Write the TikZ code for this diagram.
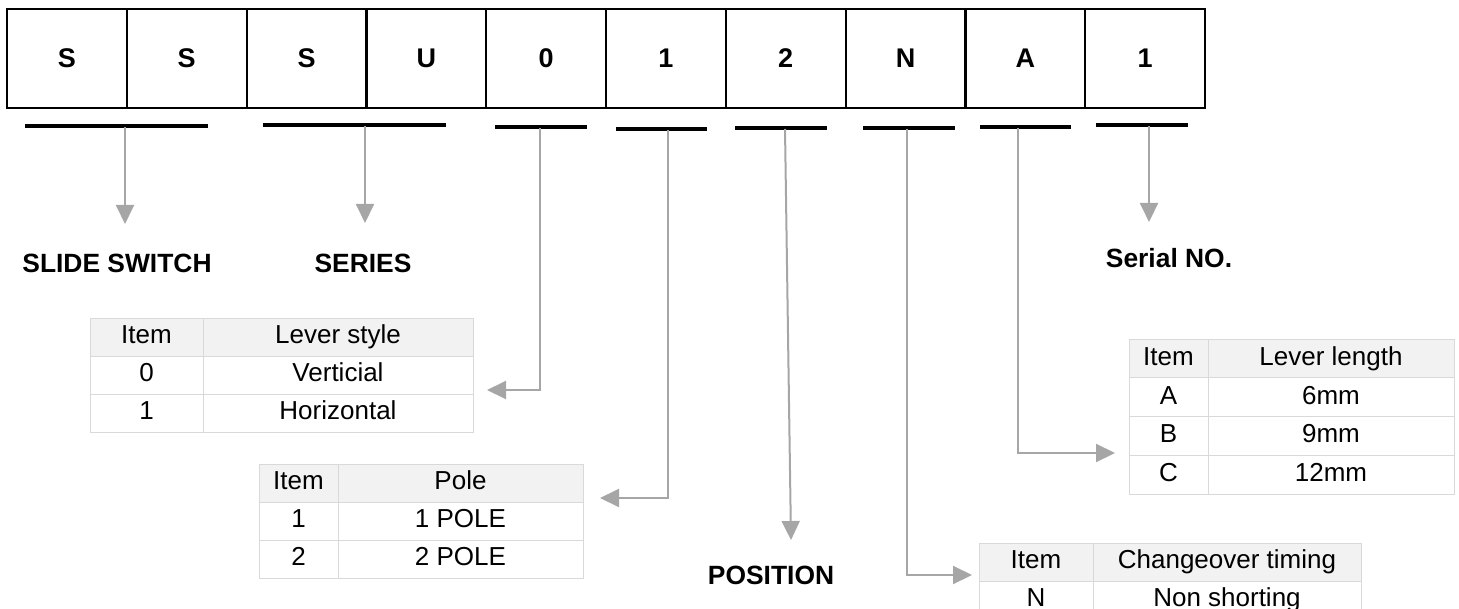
\documentclass[tikz,border=0pt]{standalone}
\usepackage{fontspec}
\setmainfont{Liberation Sans}
\usetikzlibrary{matrix,arrows.meta}

\definecolor{feedgray}{RGB}{166,166,166}
\definecolor{tabline}{RGB}{217,217,217}
\definecolor{headfill}{RGB}{242,242,242}

\newcommand{\cellfont}{\fontsize{13.5pt}{16pt}\selectfont\bfseries}
\newcommand{\labfont}{\fontsize{13.2pt}{16pt}\selectfont\bfseries}
\newcommand{\tabfont}{\fontsize{13pt}{15.6pt}\selectfont}

\tikzset{
	codecell/.style={draw, line width=1.1pt, minimum width=59.9pt, minimum height=49.5pt, inner sep=0pt, font=\cellfont},
	bar/.style={line width=2pt, black},
	feed/.style={draw=feedgray, line width=1pt, -{Triangle[length=9.5pt,width=9pt]}},
	elbow/.style={to path={|- (\tikztotarget)}},
	partlabel/.style={font=\labfont, inner sep=0pt},
	parttab/.style={matrix of nodes, inner sep=0pt, line width=0.5pt,
		row sep=-\pgflinewidth, column sep=-\pgflinewidth,
		nodes={draw=tabline, line width=0.5pt, minimum height=19pt, text height=9.4pt, text depth=2.6pt,
			anchor=center, inner sep=0pt, font=\tabfont},
		row 1/.style={nodes={fill=headfill}}}
}

\begin{document}
\begin{tikzpicture}[x=0.5pt, y=-0.5pt]
			\useasboundingbox (0,0) rectangle (1459,609);

			% part number boxes
			\foreach \ch [count=\i] in {S,S,S,U,0,1,2,N,A,1}
				\node[codecell] (c\i) at ({7+119.8*(\i-0.5)},58.5) {\ch};

			% bars under the groups
			\draw[bar] (25,126) -- (208,126);
			\draw[bar] (263,125) -- (446,125);
			\draw[bar] (495,127) -- (587,127);
			\draw[bar] (616,129) -- (707,129);
			\draw[bar] (735,128) -- (827,128);
			\draw[bar] (863,128) -- (955,128);
			\draw[bar] (980,127) -- (1071,127);
			\draw[bar] (1096,125) -- (1188,125);

			\coordinate (b1) at (125,127);
			\coordinate (b2) at (365,126);
			\coordinate (b3) at (540,128);
			\coordinate (b4) at (668,130);
			\coordinate (b5) at (785,129);
			\coordinate (b6) at (907,129);
			\coordinate (b7) at (1018,128);
			\coordinate (b8) at (1149,126);

			\coordinate (t1) at (125,224);
			\coordinate (t2) at (365,223);
			\coordinate (t3) at (487,390);
			\coordinate (t4) at (600,498);
			\coordinate (t5) at (791,540);
			\coordinate (t6) at (972,575);
			\coordinate (t7) at (1115,453);
			\coordinate (t8) at (1149,222);

			% labels
			\node[partlabel] (slide) at (117,263) {SLIDE SWITCH};
			\node[partlabel] (series) at (363,263) {SERIES};
			\node[partlabel] (position) at (771,575) {POSITION};
			\node[partlabel] (serial) at (1169,258) {Serial NO.};

			% tables
			\matrix (levstyle) [parttab, anchor=north west,
				column 1/.style={nodes={minimum width=56.5pt}},
				column 2/.style={nodes={minimum width=135pt}}] at (89,317) {
				Item & Lever style \\
				0 & Verticial \\
				1 & Horizontal \\
			};
			\matrix (pole) [parttab, anchor=north west,
				column 1/.style={nodes={minimum width=39.5pt}},
				column 2/.style={nodes={minimum width=122.5pt}}] at (258,463) {
				Item & Pole \\
				1 & 1 POLE \\
				2 & 2 POLE \\
			};
			\matrix (levlength) [parttab, anchor=north west,
				nodes={minimum height=19.4pt},
				column 1/.style={nodes={minimum width=39.5pt}},
				column 2/.style={nodes={minimum width=123pt}}] at (1128,338) {
				Item & Lever length \\
				A & 6mm \\
				B & 9mm \\
				C & 12mm \\
			};
			\matrix (timing) [parttab, anchor=north west,
				column 1/.style={nodes={minimum width=57pt}},
				column 2/.style={nodes={minimum width=134pt}}] at (978,542) {
				Item & Changeover timing \\
				N & Non shorting \\
			};

			\path
			  (b1) edge[feed] (t1)
			  (b2) edge[feed] (t2)
			  (b3) edge[feed, elbow] (t3)
			  (b4) edge[feed, elbow] (t4)
			  (b5) edge[feed] (t5)
			  (b6) edge[feed, elbow] (t6)
			  (b7) edge[feed, elbow] (t7)
			  (b8) edge[feed] (t8);

		  \end{tikzpicture}
\end{document}
